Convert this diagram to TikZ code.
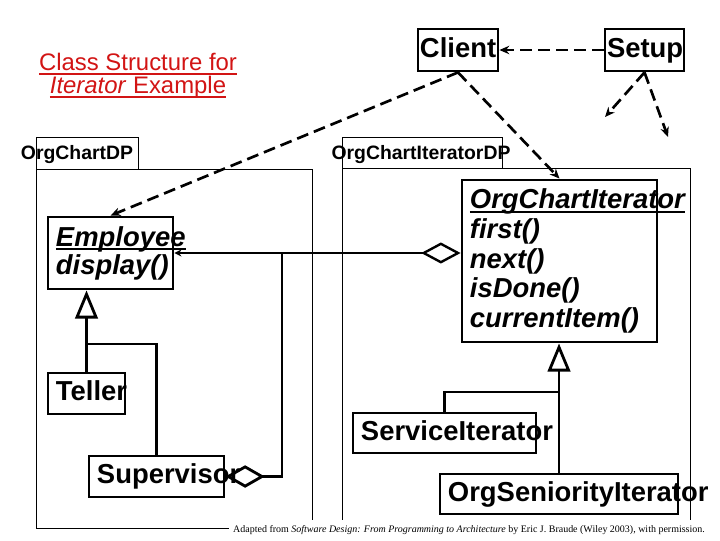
\documentclass[tikz,border=0pt]{standalone}
\usepackage{fontspec}
\setmainfont{Liberation Sans}
\newfontfamily\capfont{Liberation Serif}
\usepackage{xcolor}
\usepackage{tikz}
\usetikzlibrary{arrows.meta, positioning}
\definecolor{titlered}{RGB}{210,20,20}
\hyphenpenalty=10000
\exhyphenpenalty=10000
% thick underline
\newcommand{\uln}[1]{\setbox0\hbox{#1}\leavevmode\rlap{\rule[-3pt]{\wd0}{1.4pt}}\box0}

\begin{document}
\begin{tikzpicture}[
  x=0.025cm, y=-0.025cm,
  cls/.style={draw, line width=2pt, align=left, inner xsep=0.2cm, inner ysep=0pt,
    minimum height=1.025cm, font=\fontsize{19.5}{21}\selectfont\bfseries},
  onecls/.style={cls, text height=14pt, text depth=4pt},
  pkg/.style={line width=0.7pt},
  pkglabel/.style={anchor=base, inner sep=0pt, font=\fontsize{13.8}{15}\selectfont\bfseries},
  dep/.style={line width=1.9pt, dash pattern=on 8.5pt off 4.3pt, -{Stealth[length=7pt, width=6pt]}},
  link/.style={line width=2pt},
  inherit/.style={line width=2pt, -{Triangle[open, length=20pt, width=16pt]}},
  aggr/.style={line width=2pt, {Diamond[open, length=28pt, width=16pt]}-}
]
\useasboundingbox (0,0) rectangle (720,540);

% title
\node[align=center, text=titlered, font=\fontsize{17}{16.5}\selectfont] (title) at (138,76)
  {\uln{Class Structure for}\\\uln{\textit{Iterator} Example}};

% packages
\draw[pkg] (36,137) rectangle (138,169);
\draw[pkg] (36,169) rectangle (312,528);
\draw[pkg] (342,137) rectangle (502,168);
\draw[pkg] (342,168) rectangle (690,528);
\node[pkglabel] (chartdp) at (77,159) {OrgChartDP};
\node[pkglabel] (iterdp) at (421,159) {OrgChartIteratorDP};

% classes
\node[onecls, inner xsep=0.05cm, text width=1.9cm, minimum height=1.05cm] (client) at (458,50) {Client};
\node[onecls, inner xsep=0.05cm, text width=1.875cm, minimum height=1.05cm] (setup) at (644.5,50) {Setup};
\node[cls, text width=2.725cm, minimum height=1.8cm, font=\fontsize{19.5}{20}\selectfont\bfseries\itshape] (employee) at (110.5,253)
  {\uln{Employee}\\display()};
\node[onecls, text width=1.525cm] (teller) at (86.5,393.5) {Teller};
\node[onecls, text width=2.975cm] (supervisor) at (156.5,476.5) {Supervisor};
\node[cls, text width=4.475cm, minimum height=4.05cm, font=\fontsize{19.5}{21.2}\selectfont\bfseries\itshape] (iterator) at (559.5,261)
  {\uln{OrgChartIterator}\\first()\\next()\\isDone()\\currentItem()};
\node[onecls, text width=4.175cm, minimum height=1cm] (service) at (444.5,433) {ServiceIterator};
\node[onecls, text width=5.55cm, minimum height=1cm] (seniority) at (559,494) {OrgSeniorityIterator};

% dependencies
\coordinate (free1) at (605,117);
\coordinate (free2) at (668,137);
\draw[dep] (setup.west) -- (client.east);
\draw[dep] (client.south) -- (employee.north);
\draw[dep] (client.south) -- (iterator.north);
\draw[dep] (setup.south) -- (free1);
\draw[dep] (setup.south) -- (free2);

% inheritance
\coordinate (ejoin) at (86.5,344);
\coordinate (ijoin) at (559,392);
\draw[inherit] (teller.north) -- (teller.north |- employee.south);
\draw[link] (supervisor.north) |- (ejoin);
\draw[inherit] (seniority.north) -- (seniority.north |- iterator.south);
\draw[link] (service.north) |- (ijoin);

% aggregation
\coordinate (ajoin) at (282,253);
\draw[line width=1.7pt, {Diamond[open, length=28pt, width=15pt]}-{Stealth[length=5pt, width=5pt]}]
  (iterator.west |- employee.east) -- (employee.east);
\draw[aggr] (supervisor.east) -| (ajoin);

% credit
\node[fill=white, inner xsep=3pt, minimum height=0.5cm, font=\capfont\fontsize{7.1}{8}\selectfont] (credit) at (469,530)
  {Adapted from \textit{Software Design: From Programming to Architecture} by Eric J. Braude (Wiley 2003), with permission.};
\end{tikzpicture}
\end{document}
